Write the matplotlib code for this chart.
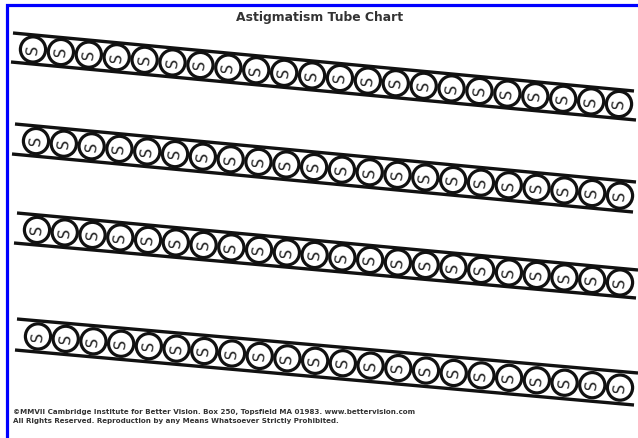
import numpy as np
import matplotlib
matplotlib.use("Agg")
import matplotlib.pyplot as plt
from matplotlib.patches import Circle

# Chart text
title = "Astigmatism Tube Chart"
footer = ["\u00a9MMVII Cambridge Institute for Better Vision. Box 250, Topsfield MA 01983. www.bettervision.com",
          "All Rights Reserved. Reproduction by any Means Whatsoever Strictly Prohibited."]

# Tube rails: (x_left, y_left, x_right, y_right) in pixel units
top_rails = [(13, 33, 634, 91), (15, 124, 636, 182), (17, 213, 638, 270), (17, 319, 638, 373)]
bottom_rails = [(11, 62, 636, 120), (12, 154, 633, 212), (14, 243, 636, 298), (15, 350, 634, 405)]

# Rings in each tube
rings_per_tube = 22
first_ring_x = [33, 36, 37, 38]
last_ring_x = [619, 620, 620, 620]
ring_letter = "S"


def rail_y(rail, x):
    x0, y0, x1, y1 = rail
    return y0 + (y1 - y0) * (x - x0) / (x1 - x0)


fig = plt.figure(figsize=(6.38, 4.38), dpi=100)
ax = fig.add_axes([0, 0, 1, 1])
ax.set_xlim(0, 638)
ax.set_ylim(438, 0)
ax.axis("off")

# blue frame (only top and left edges show)
ax.plot([6.5, 6.5, 638], [438, 4.5, 4.5], color="#0000ff", lw=2.3, solid_joinstyle="miter")

ax.text(320, 18, title, ha="center", va="center", fontsize=8.9, fontweight="bold", color="#333333")

for i in range(len(top_rails)):
    for rail in (top_rails[i], bottom_rails[i]):
        ax.plot([rail[0], rail[2]], [rail[1], rail[3]], color="#111111", lw=2.4, solid_capstyle="butt")

    xs = np.linspace(first_ring_x[i], last_ring_x[i], rings_per_tube)
    slope = (top_rails[i][3] - top_rails[i][1]) / (top_rails[i][2] - top_rails[i][0])
    angle = np.degrees(np.arctan(slope))
    for x in xs:
        y = (rail_y(top_rails[i], x) + rail_y(bottom_rails[i], x)) / 2
        ax.add_patch(Circle((x, y), 12.6, facecolor="white", edgecolor="#111111", lw=2.3))
        ax.text(x, y, ring_letter, ha="center", va="center", fontsize=11,
                rotation=90 - angle, color="#222222", rotation_mode="anchor")

ax.text(13, 412, footer[0], ha="left", va="center", fontsize=5.1, fontweight="bold", color="#333333")
ax.text(13, 421.5, footer[1], ha="left", va="center", fontsize=5.1, fontweight="bold", color="#333333")

fig.savefig("out.png", dpi=100)
